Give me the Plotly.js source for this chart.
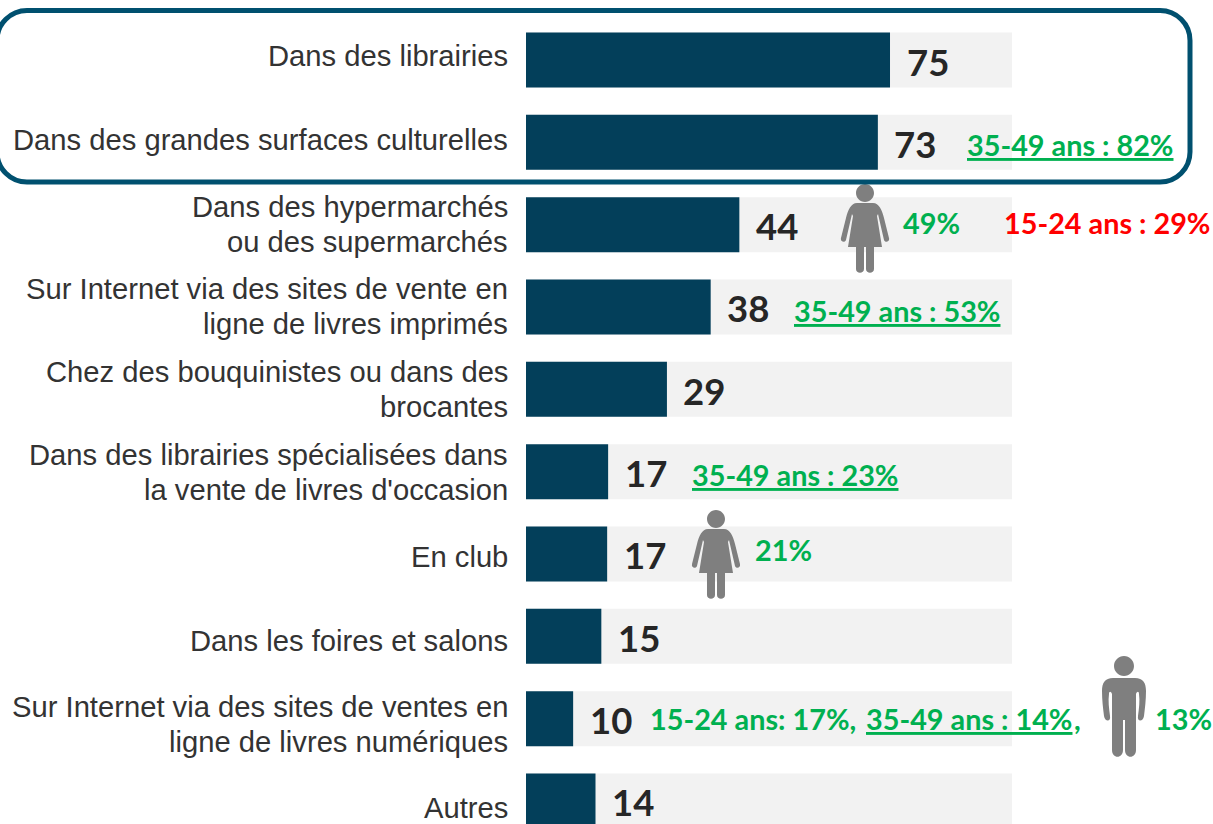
<!DOCTYPE html>
<html lang="fr">
<head>
<meta charset="utf-8">
<script src="https://cdn.plot.ly/plotly-3.0.1.min.js"></script>
<style>html,body{margin:0;padding:0;background:#fff;overflow:hidden}#chart{width:1213px;height:824px}</style>
</head>
<body>
<div id="chart"></div>
<script>
// ---- Data ----
const categories = [
  "Dans des librairies",
  "Dans des grandes surfaces culturelles",
  "Dans des hypermarchés<br>ou des supermarchés",
  "Sur Internet via des sites de vente en<br>ligne de livres imprimés",
  "Chez des bouquinistes ou dans des<br>brocantes",
  "Dans des librairies spécialisées dans<br>la vente de livres d'occasion",
  "En club",
  "Dans les foires et salons",
  "Sur Internet via des sites de ventes en<br>ligne de livres numériques",
  "Autres"
];
const barValues = [74.9, 72.4, 43.9, 38.0, 29.0, 16.9, 16.7, 15.5, 9.7, 14.3];
const valueLabels = ["75", "73", "44", "38", "29", "17", "17", "15", "10", "14"];
const fullScale = [100, 100, 100, 100, 100, 100, 100, 100, 100, 100];

// ---- Layout constants ----
const W = 1213, H = 824;
const plotL = 526, plotR = 1012;
const firstC = 60, step = 82.33;
const yShifts = [4, 2, 0.5, 0, 0, -0.5, -3.5, -4.5, -5.5, -7];
const lineGap = 35;
const dark = "#262626", green = "#00b050", red = "#ff0000", navy = "#033f5a", frame = "#00506f", grey = "#7f7f7f";
const labelFont = {family: '"Liberation Sans", Arial, sans-serif', size: 29.2, color: "#333333"};
const valueFont = {family: 'Lato, sans-serif', size: 36.5, color: dark, weight: 700};
const noteFont = (c) => ({family: 'Lato, sans-serif', size: 28.8, color: c, weight: 700});

const notes = [
  {text: "<u>35-49 ans : 82%</u>", px: 966, py: 145, c: green},
  {text: "49%", px: 902, py: 223, c: green},
  {text: "15-24 ans : 29%", px: 1003, py: 223, c: red},
  {text: "<u>35-49 ans : 53%</u>", px: 793, py: 311, c: green},
  {text: "<u>35-49 ans : 23%</u>", px: 691, py: 475, c: green},
  {text: "21%", px: 754, py: 550, c: green},
  {text: "15-24 ans: 17%,", px: 649, py: 719, c: green},
  {text: "<u>35-49 ans : 14%</u>", px: 865, py: 719, c: green},
  {text: ",", px: 1073, py: 719, c: green},
  {text: "13%", px: 1154, py: 719, c: green}
];

// Pixel helpers for decorations
const fx = (x) => x / W;
const fy = (y) => 1 - y / H;
const toPaper = (d) => d.replace(/(-?[\d.]+),(-?[\d.]+)/g, (m, a, b) => fx(+a).toFixed(5) + "," + fy(+b).toFixed(5));
const circ = (cx, cy, r) => {
  const k = 0.5523 * r;
  return `M${cx - r},${cy} C${cx - r},${cy - k} ${cx - k},${cy - r} ${cx},${cy - r} C${cx + k},${cy - r} ${cx + r},${cy - k} ${cx + r},${cy} C${cx + r},${cy + k} ${cx + k},${cy + r} ${cx},${cy + r} C${cx - k},${cy + r} ${cx - r},${cy + k} ${cx - r},${cy} Z `;
};
const woman = (c, t) => {
  const p = (x, y) => `${c + x},${t + y}`;
  return circ(c, t + 9, 9) +
    `M${p(-8, 19)} C${p(-14, 19)} ${p(-17, 26)} ${p(-19, 34)} L${p(-24, 54)} C${p(-25, 58)} ${p(-20, 59)} ${p(-19, 56)} L${p(-13, 30)} L${p(-12, 32)} L${p(-17, 63)} L${p(-9, 63)} L${p(-9, 85)} C${p(-9, 90)} ${p(-1, 90)} ${p(-1, 85)} L${p(-1, 63)} L${p(1, 63)} L${p(1, 85)} C${p(1, 90)} ${p(9, 90)} ${p(9, 85)} L${p(9, 63)} L${p(17, 63)} L${p(12, 32)} L${p(13, 30)} L${p(19, 56)} C${p(20, 59)} ${p(25, 58)} ${p(24, 54)} L${p(19, 34)} C${p(17, 26)} ${p(14, 19)} ${p(8, 19)} Z`;
};
const man = (c, t) => {
  const p = (x, y) => `${c + x},${t + y}`;
  return circ(c, t + 10, 10) +
    `M${p(-11, 22)} C${p(-19, 22)} ${p(-22, 27)} ${p(-22, 35)} C${p(-22, 44)} ${p(-21, 52)} ${p(-20, 60)} C${p(-19, 66)} ${p(-13, 66)} ${p(-14, 60)} C${p(-15, 52)} ${p(-16, 45)} ${p(-15, 38)} C${p(-15, 35)} ${p(-13, 35)} ${p(-12, 38)} L${p(-12, 94)} C${p(-12, 103)} ${p(-1, 103)} ${p(-1, 94)} L${p(-1, 64)} L${p(1, 64)} L${p(1, 94)} C${p(1, 103)} ${p(12, 103)} ${p(12, 94)} L${p(12, 38)} C${p(13, 35)} ${p(15, 35)} ${p(15, 38)} C${p(16, 45)} ${p(15, 52)} ${p(14, 60)} C${p(13, 66)} ${p(19, 66)} ${p(20, 60)} C${p(21, 52)} ${p(22, 44)} ${p(22, 35)} C${p(22, 27)} ${p(19, 22)} ${p(11, 22)} Z`;
};
const roundRect = (l, t, r, b, q) =>
  `M${l + q},${t} L${r - q},${t} C${r - q * 0.45},${t} ${r},${t + q * 0.45} ${r},${t + q} L${r},${b - q} C${r},${b - q * 0.45} ${r - q * 0.45},${b} ${r - q},${b} L${l + q},${b} C${l + q * 0.45},${b} ${l},${b - q * 0.45} ${l},${b - q} L${l},${t + q} C${l},${t + q * 0.45} ${l + q * 0.45},${t} ${l + q},${t} Z`;

const idx = categories.map((_, i) => i);
const annotations = [];
categories.forEach((c, i) => {
  const lines = c.split("<br>");
  lines.forEach((ln, k) => {
    const off = lines.length === 2 ? (k === 0 ? lineGap / 2 : -lineGap / 2) : 0;
    annotations.push({xref: "paper", yref: "y", x: fx(509), y: i, yshift: yShifts[i] + off, text: ln, showarrow: false,
      xanchor: "right", yanchor: "middle", align: "right", font: labelFont, borderpad: 0});
  });
  annotations.push({xref: "x", yref: "y", x: barValues[i], y: i, xshift: 15.5, yshift: -1.5, text: valueLabels[i], showarrow: false,
    xanchor: "left", yanchor: "middle", font: valueFont, borderpad: 0});
});
notes.forEach((n) => {
  annotations.push({xref: "paper", yref: "paper", x: fx(n.px), y: fy(n.py), text: n.text, showarrow: false,
    xanchor: "left", yanchor: "middle", font: noteFont(n.c), borderpad: 0});
});

const shapes = [
  {type: "path", xref: "paper", yref: "paper", path: toPaper(woman(865, 184)), fillcolor: grey, line: {width: 0}, layer: "above"},
  {type: "path", xref: "paper", yref: "paper", path: toPaper(woman(716, 510)), fillcolor: grey, line: {width: 0}, layer: "above"},
  {type: "path", xref: "paper", yref: "paper", path: toPaper(man(1124, 656)), fillcolor: grey, line: {width: 0}, layer: "above"},
  {type: "path", xref: "paper", yref: "paper", path: toPaper(roundRect(-3, 10.5, 1190, 182, 30)), fillcolor: "rgba(0,0,0,0)", line: {color: frame, width: 5}, layer: "above"}
];

const traces = [
  {type: "bar", orientation: "h", y: idx, x: fullScale, width: 0.668, marker: {color: "#f2f2f2"}, hoverinfo: "skip"},
  {type: "bar", orientation: "h", y: idx, x: barValues, width: 0.668, marker: {color: navy}, hoverinfo: "skip"}
];

const layout = {
  width: W, height: H,
  margin: {l: 0, r: 0, t: 0, b: 0},
  paper_bgcolor: "#ffffff", plot_bgcolor: "#ffffff",
  barmode: "overlay", showlegend: false,
  xaxis: {domain: [plotL / W, plotR / W], range: [0, 100], visible: false, fixedrange: true},
  yaxis: {range: [(H - firstC) / step, -firstC / step], visible: false, fixedrange: true},
  annotations, shapes
};
Plotly.newPlot("chart", traces, layout, {displayModeBar: false, responsive: false});
</script>
</body>
</html>
